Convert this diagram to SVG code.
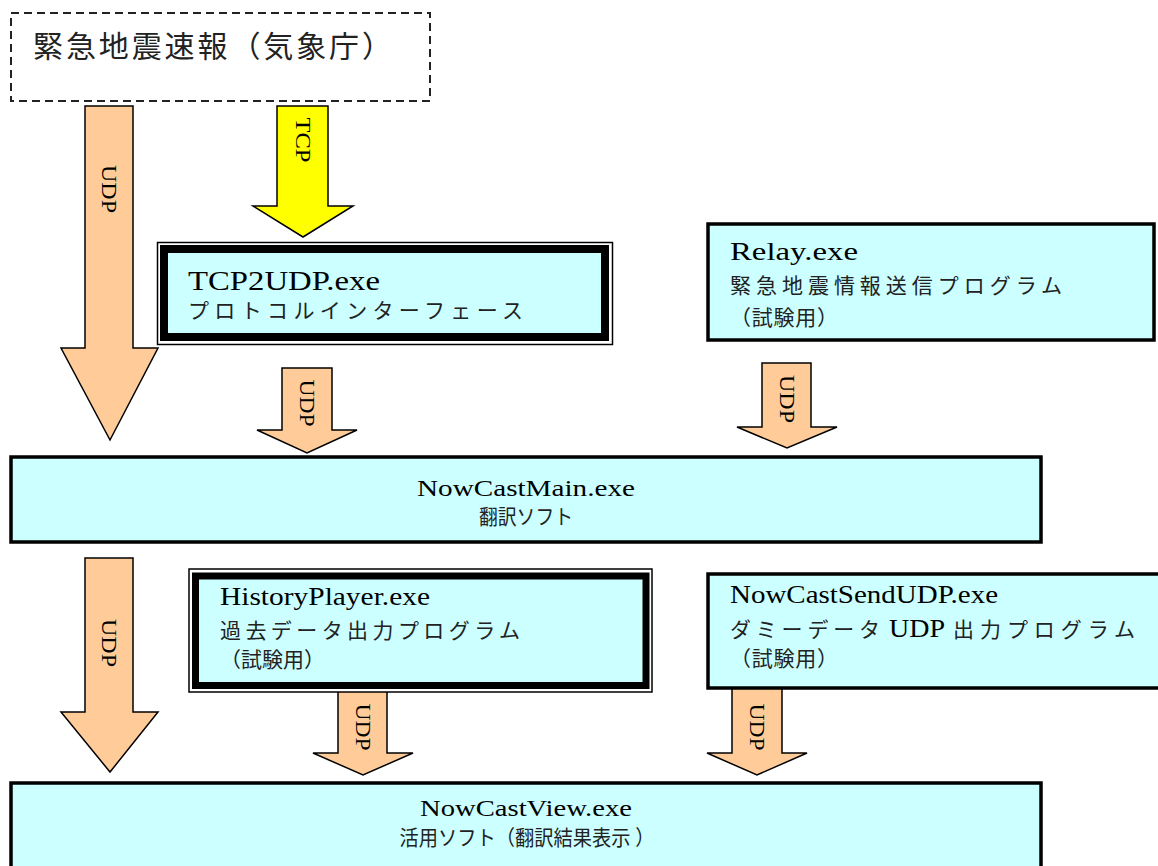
<svg xmlns="http://www.w3.org/2000/svg" width="1158" height="866" viewBox="0 0 1158 866">
<style>
.arr{fill:#ffcc99;stroke:#000;stroke-width:1.5;stroke-linejoin:miter}
.tcp{fill:#ffff00;stroke:#000;stroke-width:1.5}
.lbl{font-family:"Liberation Serif","Noto Sans CJK JP",serif;font-size:21px;fill:#000}
.box{fill:#ccffff;stroke:#000;stroke-width:3.5}
.en{font-family:"Liberation Serif",serif;font-size:25px;fill:#000}
.ja{font-family:"Liberation Serif","Noto Sans CJK JP",sans-serif;font-size:21px;fill:#222}
.enc{font-family:"Liberation Serif",serif;font-size:23px;fill:#000}
.jac{font-family:"Liberation Serif","Noto Sans CJK JP",sans-serif;font-size:21px;fill:#222}
</style>
<rect width="1158" height="866" fill="#fff"/>

<g id="source">
<rect x="11" y="13" width="419" height="88" fill="#fff" stroke="#222" stroke-width="2" stroke-dasharray="8,5"/>
<text x="33" y="57" font-family="'Noto Sans CJK JP',sans-serif" font-size="30" fill="#222" textLength="359" lengthAdjust="spacing">緊急地震速報（気象庁）</text>
</g>

<g id="connectors">
<polygon class="arr" points="85,106 133,106 133,348 158,348 110,440 61,348 85,348"/>
<text class="lbl" transform="translate(109,189) rotate(90)" text-anchor="middle" dominant-baseline="central" textLength="48" lengthAdjust="spacingAndGlyphs">UDP</text>
<polygon class="tcp" points="277,106 328,106 328,206 353,206 303,237 253,206 277,206"/>
<text class="lbl" transform="translate(302.5,140) rotate(90)" text-anchor="middle" dominant-baseline="central" textLength="45" lengthAdjust="spacingAndGlyphs">TCP</text>
<polygon class="arr" points="282,368 332,368 332,430 357,430 307,453 257,430 282,430"/>
<text class="lbl" transform="translate(307,403) rotate(90)" text-anchor="middle" dominant-baseline="central" textLength="47" lengthAdjust="spacingAndGlyphs">UDP</text>
<polygon class="arr" points="762,363 811,363 811,427 837,427 787,448 737,427 762,427"/>
<text class="lbl" transform="translate(786.5,399) rotate(90)" text-anchor="middle" dominant-baseline="central" textLength="48" lengthAdjust="spacingAndGlyphs">UDP</text>
<polygon class="arr" points="85,558 133,558 133,712 158,712 110,772 61,712 85,712"/>
<text class="lbl" transform="translate(109,643) rotate(90)" text-anchor="middle" dominant-baseline="central" textLength="48" lengthAdjust="spacingAndGlyphs">UDP</text>
<polygon class="arr" points="338,690 387,690 387,753 413,753 363,775 313,753 338,753"/>
<text class="lbl" transform="translate(362.5,727) rotate(90)" text-anchor="middle" dominant-baseline="central" textLength="47" lengthAdjust="spacingAndGlyphs">UDP</text>
<polygon class="arr" points="732,688 782,688 782,753 807,753 757,775 707,753 732,753"/>
<text class="lbl" transform="translate(757,727) rotate(90)" text-anchor="middle" dominant-baseline="central" textLength="47" lengthAdjust="spacingAndGlyphs">UDP</text>
</g>

<g id="tcp2udp">
<rect x="157.5" y="242.5" width="455" height="102" fill="#fff" stroke="#000" stroke-width="1.5"/>
<rect x="164" y="249" width="441" height="88" fill="#ccffff" stroke="#000" stroke-width="8"/>
<text x="188" y="290" font-family="'Liberation Serif',serif" font-size="27" fill="#000" textLength="192" lengthAdjust="spacingAndGlyphs">TCP2UDP.exe</text>
<text class="ja" x="188" y="318" textLength="335" lengthAdjust="spacing">プロトコルインターフェース</text>
</g>

<g id="relay">
<rect class="box" x="708" y="224" width="446" height="116"/>
<text class="en" x="730" y="260" textLength="128" lengthAdjust="spacingAndGlyphs">Relay.exe</text>
<text class="ja" x="730" y="293" textLength="332" lengthAdjust="spacing">緊急地震情報送信プログラム</text>
<text class="ja" x="730" y="325" textLength="108" lengthAdjust="spacing">（試験用）</text>
</g>

<g id="main">
<rect class="box" x="11" y="457" width="1030" height="85"/>
<text class="enc" x="526" y="496" text-anchor="middle" textLength="218" lengthAdjust="spacingAndGlyphs">NowCastMain.exe</text>
<text class="jac" x="526" y="524" text-anchor="middle" textLength="94" lengthAdjust="spacingAndGlyphs">翻訳ソフト</text>
</g>

<g id="history">
<rect x="189" y="569" width="463" height="123" fill="#fff" stroke="#000" stroke-width="1.5"/>
<rect x="195.5" y="576" width="450.5" height="109.5" fill="#ccffff" stroke="#000" stroke-width="7"/>
<text class="en" x="220" y="605" textLength="210" lengthAdjust="spacingAndGlyphs">HistoryPlayer.exe</text>
<text class="ja" x="220" y="638" textLength="300" lengthAdjust="spacing">過去データ出力プログラム</text>
<text class="ja" x="220" y="667" textLength="105" lengthAdjust="spacing">（試験用）</text>
</g>

<g id="sendudp">
<rect class="box" x="708" y="574" width="470" height="114"/>
<text class="en" x="730" y="603" textLength="268" lengthAdjust="spacingAndGlyphs">NowCastSendUDP.exe</text>
<text class="ja" x="730" y="637" textLength="150" lengthAdjust="spacing">ダミーデータ</text>
<text class="en" x="889" y="637" textLength="56" lengthAdjust="spacingAndGlyphs">UDP</text>
<text class="ja" x="953" y="637" textLength="182" lengthAdjust="spacing">出力プログラム</text>
<text class="ja" x="730" y="666" textLength="108" lengthAdjust="spacing">（試験用）</text>
</g>

<g id="view">
<rect class="box" x="11" y="783" width="1030" height="95"/>
<text class="enc" x="526" y="816" text-anchor="middle" textLength="212" lengthAdjust="spacingAndGlyphs">NowCastView.exe</text>
<text class="jac" x="527" y="845" text-anchor="middle" textLength="255" lengthAdjust="spacingAndGlyphs">活用ソフト（翻訳結果表示 ）</text>
</g>
</svg>
